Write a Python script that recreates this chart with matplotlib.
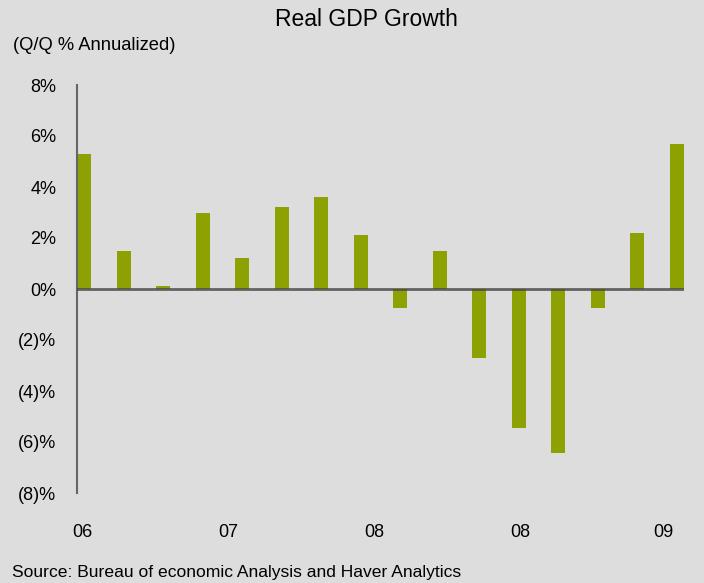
import numpy as np
import matplotlib
matplotlib.use('Agg')
import matplotlib.pyplot as plt
from matplotlib import font_manager

# quarterly real GDP growth, Q/Q annualized (%)
values = [5.3, 1.5, 0.1, 3.0, 1.2, 3.2, 3.6, 2.1, -0.75, 1.5, -2.7, -5.45, -6.45, -0.75, 2.2, 5.7]
year_labels = ['06', '07', '08', '08', '09']
year_label_pos = [-0.05, 3.65, 7.35, 11.05, 14.65]
y_ticks = [8, 6, 4, 2, 0, -2, -4, -6, -8]

# narrow font like the original, fall back if missing
names = {f.name for f in font_manager.fontManager.ttflist}
fam = 'Liberation Sans Narrow' if 'Liberation Sans Narrow' in names else 'Liberation Sans'
plt.rcParams['font.family'] = [fam, 'DejaVu Sans']

bg = '#dddddd'
bar_col = '#8ea103'

fig = plt.figure(figsize=(7.04, 5.83), dpi=100, facecolor=bg)
ax = fig.add_axes([77/704, 1 - 493/583, (684 - 77)/704, (493 - 85)/583])
ax.set_facecolor(bg)

w = 0.36
x = np.arange(len(values))
ax.bar(x, values, width=w, color=bar_col, zorder=2)
ax.axhline(0, color='#444444', lw=2, alpha=0.8, zorder=3)

ax.set_xlim(-w/2, len(values) - 1 + w/2)
ax.set_ylim(-8, 8)

for s in ['top', 'right', 'bottom']:
    ax.spines[s].set_visible(False)
ax.spines['left'].set_color('#666666')
ax.spines['left'].set_linewidth(1.5)

def pct(v):
    return f'{v}%' if v >= 0 else f'({-v})%'

ax.set_yticks(y_ticks)
ax.set_yticklabels([pct(v) for v in y_ticks], fontsize=13)
ax.tick_params(axis='y', length=0, pad=15)
ax.set_xticks(year_label_pos)
ax.set_xticklabels(year_labels, fontsize=13)
ax.tick_params(axis='x', length=0, pad=22)

fig.text(366/704, 1 - 19/583, 'Real GDP Growth', ha='center', va='center',
         fontsize=16.5)
fig.text(13/704, 1 - 45/583, '(Q/Q % Annualized)', ha='left', va='center', fontsize=13.2)
fig.text(12/704, 1 - 572/583, 'Source: Bureau of economic Analysis and Haver Analytics',
         ha='left', va='center', fontsize=12.6)

plt.savefig('out.png', dpi=100, facecolor=bg)
plt.close()
